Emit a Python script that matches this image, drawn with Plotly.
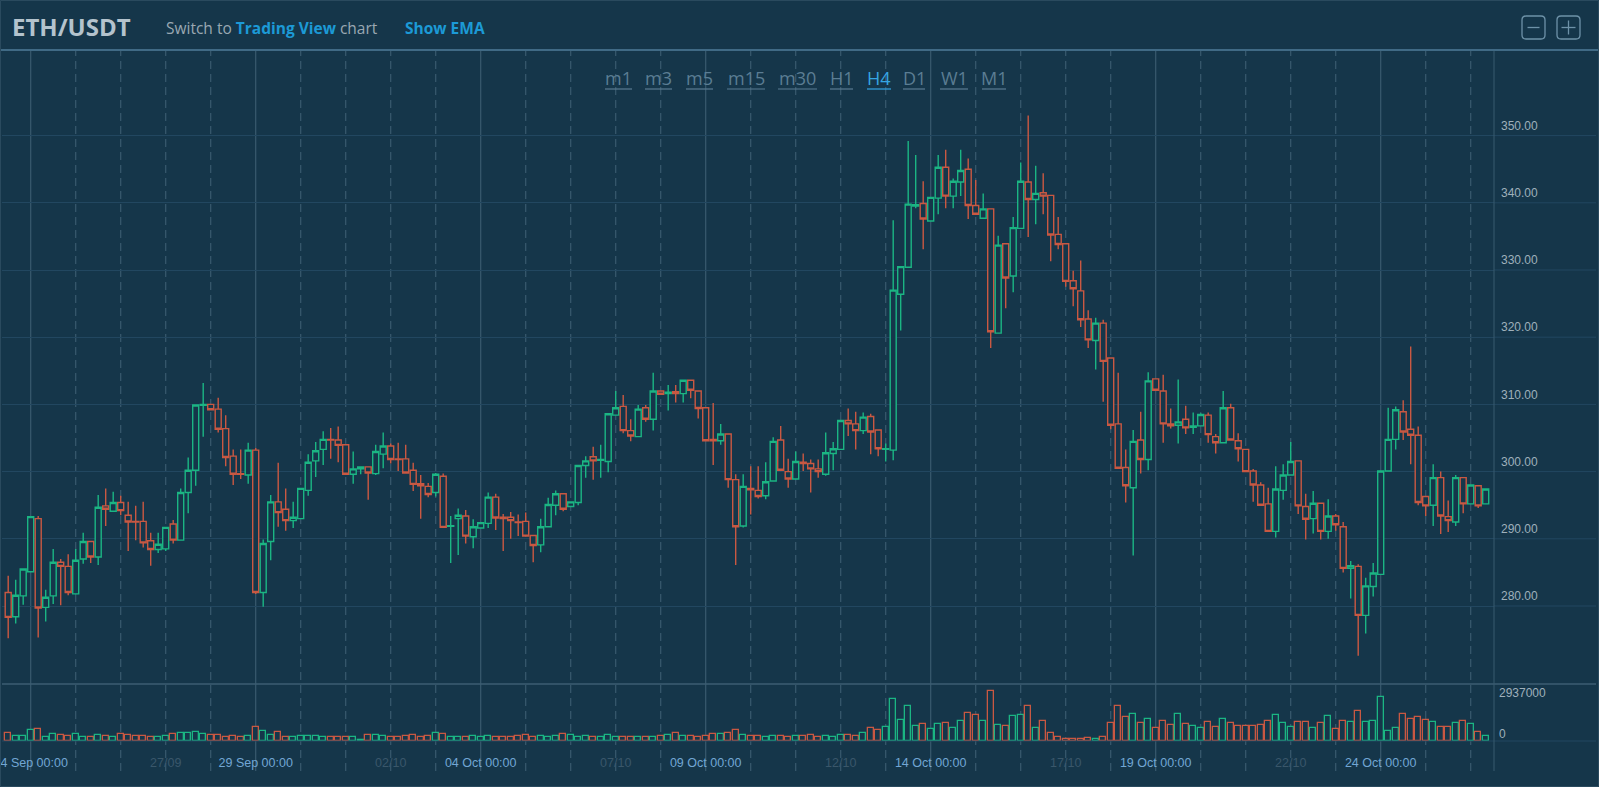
import plotly.graph_objects as go
import pandas as pd

# ---------------- data (ETH/USDT, H4 candles) ----------------
start_time = "2020-09-23 12:00"
opens = [282.0, 278.4, 281.5, 285.1, 293.0, 279.8, 281.5, 286.5, 285.9, 281.8,
         287.0, 289.6, 287.3, 294.9, 294.1, 295.4, 293.5, 292.6, 292.6, 289.7,
         288.4, 288.5, 292.2, 289.8, 296.9, 300.2, 309.85, 310.0, 309.3, 306.4,
         302.3, 299.7, 299.5, 303.2, 282.0, 289.6, 295.5, 294.4, 292.7, 293.0,
         297.2, 301.6, 303.3, 304.8, 304.7, 304.0, 299.6, 300.4, 300.7, 299.7,
         302.6, 303.8, 301.9, 301.9, 300.2, 298.2, 297.8, 296.9, 299.3, 291.85,
         293.0, 293.4, 290.3, 291.6, 292.3, 296.2, 293.2, 293.2, 292.5, 292.6,
         290.5, 289.1, 291.8, 295.0, 296.7, 294.8, 295.4, 300.9, 302.2, 301.7,
         301.5, 308.4, 309.7, 306.1, 305.2, 309.5, 307.8, 312.0, 311.6, 311.9,
         311.6, 313.6, 312.0, 309.5, 304.8, 304.6, 305.6, 298.8, 291.9, 297.5,
         297.2, 296.4, 298.6, 304.7, 300.0, 298.9, 301.4, 301.2, 300.4, 299.6,
         302.7, 303.3, 307.6, 307.1, 306.1, 308.2, 306.2, 303.3, 303.2, 326.4,
         330.4, 339.5, 339.9, 337.3, 340.7, 345.3, 341.0, 343.1, 345.0, 339.6,
         337.7, 339.1, 320.6, 333.9, 329.1, 336.2, 343.1, 340.5, 341.5, 341.1,
         335.3, 333.9, 328.4, 326.9, 322.7, 319.5, 322.1, 316.9, 307.1, 300.6,
         297.6, 304.7, 301.8, 313.8, 312.0, 307.1, 306.9, 307.8, 306.6, 306.8,
         308.4, 305.2, 304.3, 309.5, 304.6, 303.3, 300.1, 298.0, 295.2, 291.1,
         297.2, 299.5, 301.6, 294.8, 293.0, 295.3, 291.1, 293.4, 291.8, 285.6,
         285.9, 278.6, 282.9, 284.7, 300.1, 304.8, 308.9, 306.3, 305.4, 296.3,
         295.0, 299.1, 293.3, 292.5, 299.1, 295.2, 297.9, 295.2]
highs = [284.5, 283.9, 285.6, 293.4, 293.4, 282.4, 288.5, 287.0, 287.7, 288.5,
         290.9, 289.6, 296.5, 297.5, 297.0, 296.4, 295.5, 294.9, 295.5, 290.9,
         290.9, 291.8, 292.8, 297.5, 302.1, 309.9, 313.2, 310.0, 311.0, 308.4,
         303.3, 303.3, 304.3, 303.5, 289.9, 296.5, 301.3, 297.5, 295.5, 297.5,
         302.6, 304.4, 306.0, 306.5, 306.7, 304.0, 303.0, 300.8, 300.7, 304.0,
         305.8, 304.2, 304.3, 304.0, 301.3, 299.5, 298.3, 299.8, 299.7, 293.4,
         294.5, 294.3, 292.9, 292.5, 296.9, 296.7, 293.7, 294.0, 293.6, 293.9,
         290.5, 293.0, 296.1, 297.2, 296.8, 295.5, 300.9, 302.3, 303.7, 304.0,
         308.6, 312.0, 311.4, 307.8, 309.9, 309.9, 314.7, 312.0, 312.9, 312.9,
         313.7, 313.6, 312.1, 309.5, 310.2, 307.1, 305.7, 299.6, 299.6, 300.8,
         300.8, 301.4, 305.1, 306.8, 301.9, 303.0, 302.7, 301.8, 301.8, 305.8,
         304.4, 307.6, 309.4, 308.9, 308.8, 308.6, 306.2, 304.2, 337.4, 330.5,
         349.2, 347.1, 343.2, 340.8, 347.1, 347.9, 343.6, 347.9, 346.6, 343.4,
         341.4, 339.1, 335.1, 333.9, 337.9, 346.0, 353.0, 345.5, 344.4, 341.1,
         337.9, 333.9, 329.9, 331.4, 324.0, 322.9, 322.6, 316.9, 314.7, 303.3,
         306.2, 308.9, 314.8, 313.8, 314.4, 309.4, 313.7, 309.8, 308.8, 308.7,
         308.8, 305.6, 312.0, 310.1, 305.7, 303.3, 300.4, 298.4, 297.6, 300.8,
         301.1, 304.4, 301.6, 296.7, 297.1, 295.3, 295.9, 293.7, 292.5, 286.7,
         286.2, 284.2, 286.4, 300.1, 309.5, 309.7, 310.6, 318.6, 306.7, 296.3,
         301.1, 300.0, 295.7, 299.5, 299.1, 298.0, 297.9, 297.4]
lows = [275.2, 277.4, 280.2, 285.1, 275.3, 277.7, 280.3, 280.1, 281.6, 281.8,
        286.3, 286.4, 286.1, 291.9, 294.1, 293.5, 288.2, 289.8, 288.7, 286.0,
        287.9, 288.2, 289.3, 289.8, 293.8, 297.9, 305.2, 309.2, 305.8, 300.8,
        298.0, 298.9, 298.2, 281.8, 279.9, 286.8, 291.8, 291.2, 291.6, 293.0,
        296.4, 299.2, 301.0, 301.9, 301.4, 299.6, 298.2, 299.6, 295.8, 299.5,
        300.5, 301.2, 300.1, 299.8, 297.1, 293.0, 296.2, 296.3, 291.7, 286.4,
        287.6, 289.3, 288.6, 291.5, 291.6, 291.3, 288.2, 290.0, 290.4, 290.4,
        286.5, 288.0, 291.8, 293.5, 294.1, 294.8, 295.0, 299.1, 298.8, 299.1,
        299.9, 308.4, 305.7, 304.5, 305.2, 307.4, 306.1, 311.5, 309.1, 310.3,
        310.3, 310.9, 307.9, 304.6, 301.0, 304.0, 297.6, 286.1, 291.7, 293.6,
        296.0, 295.9, 298.6, 300.2, 297.6, 298.9, 300.1, 296.9, 299.1, 299.4,
        300.2, 303.3, 305.3, 303.3, 305.6, 302.6, 302.3, 301.5, 301.7, 321.0,
        330.4, 339.2, 333.1, 337.3, 338.3, 339.2, 339.2, 341.0, 337.6, 338.2,
        337.7, 318.4, 320.6, 324.3, 326.7, 336.2, 334.9, 336.8, 338.3, 331.3,
        333.1, 327.5, 324.6, 321.5, 318.4, 315.2, 310.4, 306.3, 300.5, 295.4,
        287.5, 299.7, 300.2, 312.1, 304.3, 306.4, 304.2, 305.6, 305.6, 306.8,
        304.3, 302.7, 304.2, 304.7, 301.5, 300.0, 295.5, 295.0, 291.1, 290.2,
        295.8, 299.5, 293.7, 289.9, 290.8, 289.9, 290.0, 291.2, 285.0, 281.1,
        272.6, 275.9, 281.4, 284.7, 300.1, 303.3, 304.7, 301.1, 295.0, 293.4,
        291.9, 290.7, 291.0, 291.9, 293.8, 295.2, 294.6, 295.2]
closes = [278.3, 281.6, 285.5, 293.3, 279.7, 281.3, 286.5, 285.9, 282.0, 286.8,
          289.6, 287.3, 294.7, 294.4, 295.4, 294.2, 292.5, 292.5, 289.4, 288.4,
          289.2, 291.7, 289.8, 296.9, 300.2, 309.9, 310.0, 309.2, 306.3, 302.1,
          299.6, 299.6, 303.2, 282.0, 289.3, 295.5, 293.9, 292.7, 293.2, 297.5,
          301.4, 303.1, 304.8, 304.7, 303.9, 299.6, 300.4, 300.7, 299.8, 303.0,
          303.8, 301.8, 301.8, 299.8, 298.1, 297.9, 296.6, 299.6, 291.7, 291.95,
          293.5, 290.4, 291.8, 292.4, 296.2, 293.1, 293.0, 292.7, 292.4, 290.4,
          289.0, 291.8, 295.1, 296.7, 294.4, 295.5, 300.9, 301.6, 301.6, 301.8,
          308.6, 309.5, 306.1, 305.3, 309.3, 307.8, 312.0, 311.5, 311.8, 311.6,
          313.6, 312.1, 309.4, 304.6, 304.6, 305.6, 298.8, 291.8, 297.8, 297.3,
          296.3, 298.5, 304.5, 300.2, 298.9, 301.5, 301.2, 300.4, 300.0, 302.8,
          303.4, 307.6, 307.1, 306.1, 308.1, 305.9, 303.4, 303.4, 327.0, 330.5,
          339.8, 339.7, 337.6, 340.8, 345.3, 341.0, 343.2, 344.8, 339.6, 338.3,
          339.1, 320.8, 333.7, 328.8, 336.3, 343.2, 340.5, 341.4, 341.0, 335.2,
          333.8, 328.3, 327.2, 322.6, 319.6, 322.1, 316.4, 306.9, 300.5, 297.9,
          304.5, 301.8, 313.5, 312.1, 307.1, 306.8, 307.4, 306.5, 306.8, 308.5,
          305.5, 304.3, 309.5, 304.7, 303.4, 300.0, 298.0, 295.0, 291.1, 297.4,
          299.5, 301.5, 294.9, 292.9, 295.3, 291.1, 293.4, 292.1, 285.6, 286.0,
          278.6, 283.0, 284.9, 300.1, 304.8, 309.2, 305.9, 305.4, 295.4, 294.9,
          299.1, 293.4, 292.7, 299.1, 295.2, 298.0, 294.9, 297.4]
volumes = [450, 294, 294, 646, 685, 254, 411, 352, 294, 411,
           254, 215, 352, 294, 215, 411, 352, 294, 294, 215,
           215, 294, 411, 489, 450, 548, 411, 352, 352, 254,
           294, 215, 294, 802, 607, 352, 548, 254, 215, 294,
           294, 294, 254, 254, 254, 254, 215, 59, 352, 352,
           294, 215, 254, 294, 352, 254, 294, 489, 411, 254,
           215, 254, 294, 215, 294, 254, 215, 254, 294, 352,
           254, 294, 254, 294, 411, 352, 254, 294, 254, 215,
           352, 215, 254, 215, 215, 215, 254, 294, 352, 450,
           294, 294, 215, 294, 411, 411, 450, 646, 352, 294,
           294, 254, 294, 294, 254, 294, 294, 352, 254, 294,
           215, 352, 352, 294, 450, 744, 646, 841, 2446, 1233,
           2054, 900, 978, 685, 978, 1037, 783, 1174, 1663, 1526,
           1174, 2937, 939, 881, 1468, 1526, 2054, 744, 1174, 489,
           215, 117, 98, 117, 157, 98, 215, 1076, 2054, 1389,
           1565, 1037, 1291, 783, 1174, 939, 1565, 998, 881, 744,
           1096, 802, 1272, 1037, 900, 881, 881, 939, 1174, 1526,
           1076, 841, 1135, 1135, 783, 1076, 1468, 704, 1174, 1096,
           1761, 1096, 1174, 2563, 587, 744, 1565, 1272, 1389, 1233,
           1096, 802, 802, 1037, 1174, 978, 509, 294]
volumes = [v * 1000 for v in volumes]
volume_max_label = 2937000

price_ticks = [280, 290, 300, 310, 320, 330, 340, 350]
major_days = ["2020-09-24", "2020-09-29", "2020-10-04", "2020-10-09",
              "2020-10-14", "2020-10-19", "2020-10-24"]
minor_days = ["2020-09-27", "2020-10-02", "2020-10-07", "2020-10-12",
              "2020-10-17", "2020-10-22"]
timeframes = ["m1", "m3", "m5", "m15", "m30", "H1", "H4", "D1", "W1", "M1"]
active_tf = "H4"

# ---------------- styling / geometry ----------------
W, H = 1599, 787
BG = "#15364a"
GREEN = "#1bb583"
RED = "#c95842"
GRID_H = "#224760"
GRID_V = "#395a6e"
LABEL = "#9fb0bb"
AXIS_FONT = "Liberation Sans, Arial, sans-serif"

PL, PR, PT, PB = 2, 1494, 51, 741         # plot area in px
PRICE_BOTTOM = 684
pw, ph = PR - PL, PB - PT

def px_x(px):
    return (px - PL) / pw

def px_y(py):
    return (PB - py) / ph

times = pd.date_range(start_time, periods=len(opens), freq="4h")
t0 = pd.Timestamp(start_time)
step = pd.Timedelta(hours=4)
c0_px, c_step = 8.2, 7.5
x_start = t0 + step * ((PL - c0_px) / c_step)
x_end = t0 + step * ((PR - c0_px) / c_step)

# price scale: 280 at px 606, 6.72 px per unit
p_lo = 280 + (606 - PRICE_BOTTOM) / 6.72
p_hi = 280 + (606 - PT) / 6.72
vol_top = volume_max_label * (PB - PRICE_BOTTOM) / 50.3
split = px_y(PRICE_BOTTOM)

fig = go.Figure()
fig.add_trace(go.Candlestick(
    x=times, open=opens, high=highs, low=lows, close=closes,
    increasing=dict(line=dict(color=GREEN, width=1.4), fillcolor=BG),
    decreasing=dict(line=dict(color=RED, width=1.4), fillcolor=BG),
    whiskerwidth=0, hoverinfo="skip", yaxis="y"))

vol_colors = [GREEN if c >= o else RED for o, c in zip(opens, closes)]
fig.add_trace(go.Bar(
    x=times, y=volumes, yaxis="y2",
    width=0.76 * 4 * 3600 * 1000,
    marker=dict(color=BG, line=dict(color=vol_colors, width=1.3)),
    hoverinfo="skip"))

shapes = []
y_bot_lines = px_y(771)
for d in pd.date_range("2020-09-24", "2020-10-26", freq="D"):
    solid = d.strftime("%Y-%m-%d") in major_days
    shapes.append(dict(type="line", xref="x", yref="paper", x0=d, x1=d,
                       y0=y_bot_lines, y1=1, layer="below",
                       line=dict(color=GRID_V, width=1.2,
                                 dash="solid" if solid else "8px,5px")))
# gridline extensions into label column
for v in price_ticks:
    shapes.append(dict(type="line", xref="paper", yref="y", x0=1, x1=px_x(1596),
                       y0=v, y1=v, line=dict(color=GRID_H, width=1)))
shapes.append(dict(type="line", xref="paper", yref="paper", x0=0, x1=px_x(1596),
                   y0=0, y1=0, line=dict(color=GRID_H, width=1)))
# price / volume separator
shapes.append(dict(type="line", xref="paper", yref="paper", x0=0, x1=px_x(1596),
                   y0=split, y1=split, line=dict(color="#3d5e73", width=1.5)))
# right axis line
shapes.append(dict(type="line", xref="paper", yref="paper", x0=1, x1=1,
                   y0=y_bot_lines, y1=1, line=dict(color=GRID_V, width=1)))
# header line
shapes.append(dict(type="line", xref="paper", yref="paper", x0=px_x(1), x1=px_x(1598),
                   y0=px_y(50), y1=px_y(50), line=dict(color="#4f7d9a", width=1.5)))
# outer frame
shapes.append(dict(type="rect", xref="paper", yref="paper", x0=px_x(0.5), x1=px_x(1598.5),
                   y0=px_y(786.5), y1=px_y(0.5), line=dict(color="#2a4a5e", width=1)))

# zoom buttons (rounded squares)
def rounded(x0, y0, x1, y1, r=4):
    X = px_x
    Y = px_y
    return (f"M {X(x0 + r)} {Y(y0)} L {X(x1 - r)} {Y(y0)} Q {X(x1)} {Y(y0)} {X(x1)} {Y(y0 + r)} "
            f"L {X(x1)} {Y(y1 - r)} Q {X(x1)} {Y(y1)} {X(x1 - r)} {Y(y1)} "
            f"L {X(x0 + r)} {Y(y1)} Q {X(x0)} {Y(y1)} {X(x0)} {Y(y1 - r)} "
            f"L {X(x0)} {Y(y0 + r)} Q {X(x0)} {Y(y0)} {X(x0 + r)} {Y(y0)} Z")

BTN = "#6e92a8"
for bx in (1522, 1557):
    shapes.append(dict(type="path", xref="paper", yref="paper",
                       path=rounded(bx, 16, bx + 23, 39), line=dict(color=BTN, width=1.3)))
shapes.append(dict(type="line", xref="paper", yref="paper", x0=px_x(1527.5), x1=px_x(1539.5),
                   y0=px_y(27.5), y1=px_y(27.5), line=dict(color=BTN, width=1.3)))
shapes.append(dict(type="line", xref="paper", yref="paper", x0=px_x(1561.5), x1=px_x(1575.5),
                   y0=px_y(27.5), y1=px_y(27.5), line=dict(color=BTN, width=1.3)))
shapes.append(dict(type="line", xref="paper", yref="paper", x0=px_x(1568.5), x1=px_x(1568.5),
                   y0=px_y(20.5), y1=px_y(34.5), line=dict(color=BTN, width=1.3)))

annotations = []
def ann(text, x, y, size, color, anchor="left", family="Open Sans, sans-serif"):
    annotations.append(dict(text=text, xref="paper", yref="paper", x=px_x(x), y=px_y(y),
                            xanchor=anchor, yanchor="middle", showarrow=False,
                            font=dict(size=size, color=color, family=family)))

ann("<b>ETH/USDT</b>", 10, 26, 24, "#b4c3cd")
ann("Switch to <b><span style='color:#1c9ad6'>Trading View</span></b> chart", 164, 28, 15.5, "#9aa8b2")
ann("<b>Show EMA</b>", 403, 28, 15.5, "#1c9ad6")

tf_spans = [(605, 632), (645, 672), (686, 713), (727, 765), (778, 817),
            (830, 853), (867, 891), (903, 925), (940, 968), (982, 1006)]
for name, (a, b) in zip(timeframes, tf_spans):
    col = "#35a5e2" if name == active_tf else "#5b7d93"
    ann(name, (a + b) / 2, 78, 18, col, anchor="center")
    shapes.append(dict(type="line", xref="paper", yref="paper", x0=px_x(a), x1=px_x(b),
                       y0=px_y(89), y1=px_y(89), line=dict(color=col, width=1.2)))

# volume axis labels
ann(f"{volume_max_label}", 1497, 693, 12, LABEL, family=AXIS_FONT)
ann("0", 1497, 734, 12, LABEL, family=AXIS_FONT)

tickvals = [pd.Timestamp(d) for d in major_days] + [pd.Timestamp(d) for d in minor_days]
ticktext = ([f"<span style='color:#72a6d4'>{pd.Timestamp(d).strftime('%d %b 00:00')}</span>" for d in major_days]
            + [f"<span style='color:#3a576a'>{pd.Timestamp(d).strftime('%d/%m')}</span>" for d in minor_days])

fig.update_layout(
    width=W, height=H,
    margin=dict(l=PL, r=W - PR, t=PT, b=H - PB, pad=0, autoexpand=False),
    paper_bgcolor=BG, plot_bgcolor=BG,
    showlegend=False, hovermode=False, bargap=0,
    boxgap=0.2, boxgroupgap=0,
    shapes=shapes, annotations=annotations,
    xaxis=dict(type="date", range=[x_start, x_end], anchor="y2", automargin=False,
               showgrid=False, zeroline=False,
               showline=False, ticks="", tickvals=tickvals, ticktext=ticktext,
               tickfont=dict(size=12.5, family=AXIS_FONT),
               ticklabelstandoff=12, ticklabeloverflow="allow",
               rangeslider=dict(visible=False), fixedrange=True),
    yaxis=dict(domain=[split, 1], range=[p_lo, p_hi], side="right", anchor="x",
               automargin=False,
               tickvals=price_ticks, ticktext=[f"{v:.2f}" for v in price_ticks],
               tickfont=dict(size=12, color=LABEL, family=AXIS_FONT),
               showgrid=True, gridcolor=GRID_H, gridwidth=1, zeroline=False,
               showline=False, ticks="", ticklabelstandoff=6, ticklabelshift=-10,
               fixedrange=True),
    yaxis2=dict(domain=[0, split], range=[0, vol_top], side="right", anchor="x",
                automargin=False,
                showticklabels=False, showgrid=False, zeroline=False,
                showline=False, ticks="", fixedrange=True),
)

fig.write_html("out.html", config={"displayModeBar": False},
               post_script="document.body.style.margin='0';document.body.style.overflow='hidden';"
                           "document.body.style.background='#15364a';")
